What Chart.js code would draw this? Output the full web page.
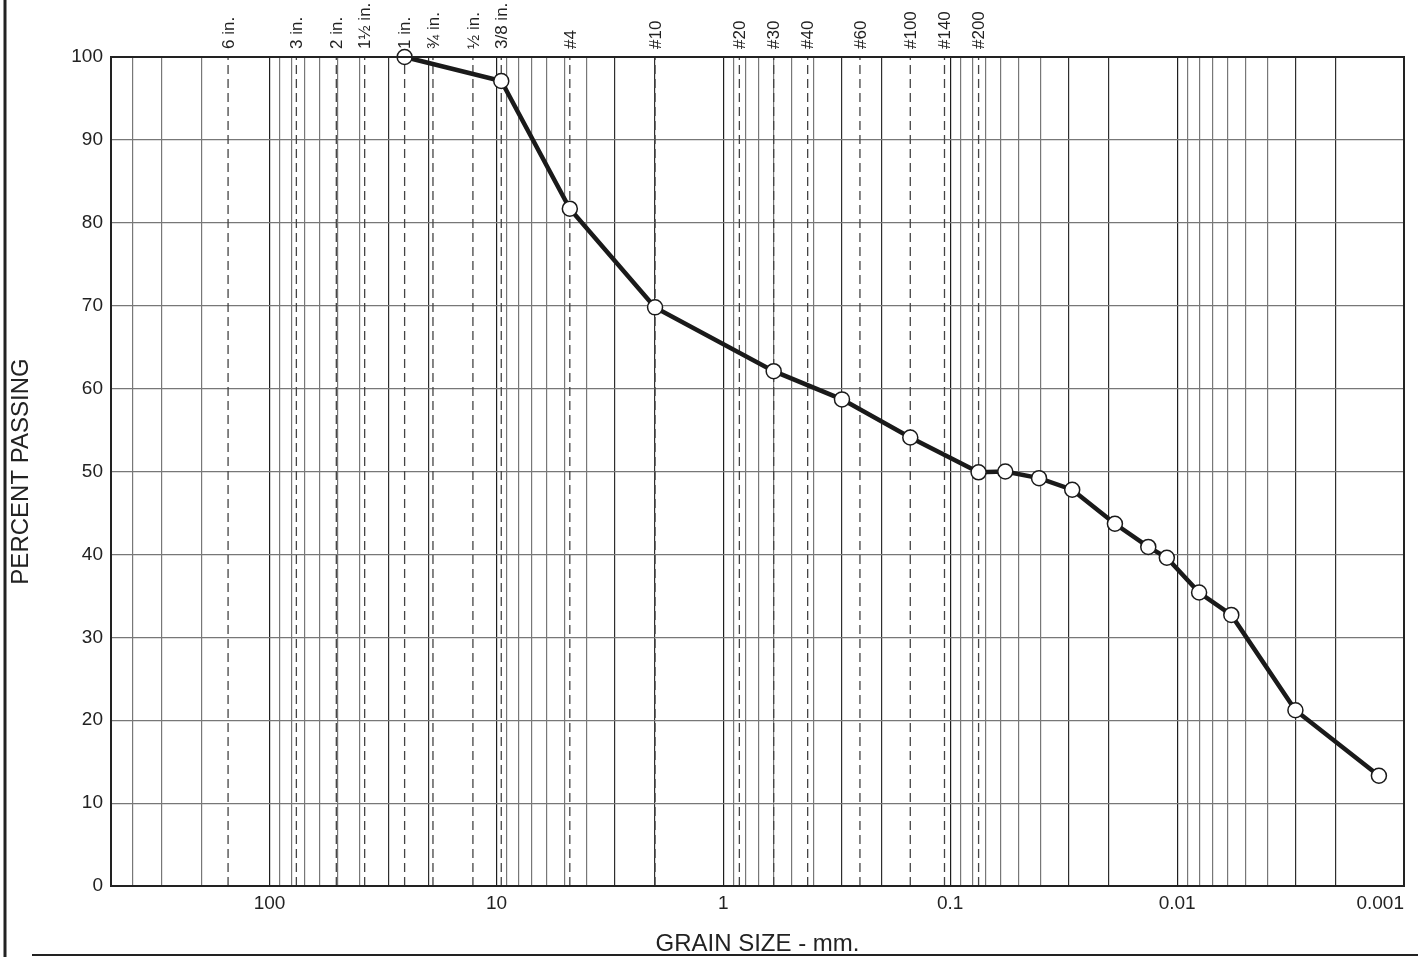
<!DOCTYPE html>
<html>
<head>
<meta charset="utf-8">
<script src="https://cdn.jsdelivr.net/npm/chart.js@4.4.1/dist/chart.umd.min.js"></script>
<style>
  html, body { margin: 0; padding: 0; background: #fff; }
  canvas { display: block; }
</style>
</head>
<body>
<canvas id="gradationChart" width="1418" height="957"></canvas>
<script>
// grain size (mm) and percent passing
var grainSize = [25.4, 9.525, 4.75, 2.0, 0.6, 0.3, 0.15, 0.075, 0.0572, 0.0406, 0.029, 0.0188, 0.0134, 0.0111, 0.008, 0.00577, 0.00301, 0.00129];
var percentPassing = [100, 97.1, 81.7, 69.8, 62.1, 58.7, 54.1, 49.9, 50.0, 49.2, 47.8, 43.7, 40.9, 39.6, 35.4, 32.7, 21.2, 13.3];

// standard sieve openings (mm) and their names along the top
var sieveSizes = [152.4, 76.2, 50.8, 38.1, 25.4, 19.05, 12.7, 9.525, 4.75, 2.0, 0.85, 0.6, 0.425, 0.25, 0.15, 0.106, 0.075];
var sieveLabels = ['6 in.', '3 in.', '2 in.', '1\u00BD in.', '1 in.', '\u00BE in.', '\u00BD in.', '3/8 in.', '#4', '#10', '#20', '#30', '#40', '#60', '#100', '#140', '#200'];

// labelled decades on the grain size axis
var decades = [0.001, 0.01, 0.1, 1, 10, 100];
var xMin = 0.001;
var xMax = 500;

var FONT = "'Liberation Sans', Arial, sans-serif";

// log grid ticks: 1..9 x each decade, up to 400
function buildLogTicks() {
    var out = [];
    decades.forEach(function (d) {
        for (var m = 1; m <= 9; m++) {
            var v = Number((m * d).toPrecision(3));
            if (v >= xMin && v < xMax) out.push({ value: v, mant: m, decade: d });
        }
    });
    return out;
}

function gridColorFor(tick) {
    if (!tick) return '#777';
    var v = tick.value;
    var e = Math.floor(Math.log10(v) + 1e-9);
    var m = Math.round(v / Math.pow(10, e));
    if (m === 1) return '#1e1e1e';
    if ((m === 2 || m === 3) && v < 100) return '#2e2e2e';
    return '#777';
}

var datasets = [{
    label: 'Percent passing',
    data: grainSize.map(function (g, i) { return { x: g, y: percentPassing[i] }; }),
    borderColor: '#1a1a1a',
    borderWidth: 4.5,
    pointRadius: 7.5,
    pointBackgroundColor: '#fff',
    pointBorderColor: '#1a1a1a',
    pointBorderWidth: 1.5,
    tension: 0,
    clip: false
}];

// dashed vertical line at each sieve size
sieveSizes.forEach(function (s, i) {
    datasets.push({
        label: sieveLabels[i],
        data: [{ x: s, y: 0 }, { x: s, y: 100 }],
        borderColor: '#444',
        borderWidth: 1.3,
        borderDash: [9, 5],
        pointRadius: 0,
        tension: 0
    });
});

var framePlugin = {
    id: 'frame',
    afterDraw: function (chart) {
        var ctx = chart.ctx;
        var a = chart.chartArea;
        var xs = chart.scales.x;
        ctx.save();
        // plot border
        ctx.strokeStyle = '#222';
        ctx.lineWidth = 2;
        ctx.strokeRect(a.left, a.top, a.right - a.left, a.bottom - a.top);
        // outer sheet lines
        ctx.lineWidth = 3;
        ctx.beginPath();
        ctx.moveTo(5, 0);
        ctx.lineTo(5, chart.height);
        ctx.stroke();
        ctx.lineWidth = 2;
        ctx.beginPath();
        ctx.moveTo(32, chart.height - 2);
        ctx.lineTo(chart.width, chart.height - 2);
        ctx.stroke();

        // sieve names above the plot
        ctx.fillStyle = '#222';
        ctx.font = '17px ' + FONT;
        ctx.textAlign = 'left';
        ctx.textBaseline = 'middle';
        sieveSizes.forEach(function (s, i) {
            var px = xs.getPixelForValue(s);
            ctx.save();
            ctx.translate(px + 1, a.top - 8);
            ctx.rotate(-Math.PI / 2);
            ctx.fillText(sieveLabels[i], 0, 0);
            ctx.restore();
        });

        // axis titles
        ctx.font = '24px ' + FONT;
        ctx.textAlign = 'center';
        ctx.textBaseline = 'middle';
        ctx.fillText('GRAIN SIZE - mm.', (a.left + a.right) / 2, 944);
        ctx.save();
        ctx.translate(21, (a.top + a.bottom) / 2);
        ctx.rotate(-Math.PI / 2);
        ctx.fillText('PERCENT PASSING', 0, 0);
        ctx.restore();
        ctx.restore();
    }
};

var ctx = document.getElementById('gradationChart').getContext('2d');
var chart = new Chart(ctx, {
    type: 'line',
    data: { datasets: datasets },
    options: {
        responsive: false,
        animation: false,
        devicePixelRatio: 1,
        layout: { padding: { top: 57, right: 14, left: 0, bottom: 0 } },
        plugins: {
            legend: { display: false },
            tooltip: { enabled: false }
        },
        scales: {
            x: {
                type: 'logarithmic',
                reverse: true,
                min: xMin,
                max: xMax,
                afterBuildTicks: function (scale) {
                    scale.ticks = buildLogTicks();
                },
                afterFit: function (scale) {
                    scale.height = 71;
                    scale.paddingLeft = 0;
                    scale.paddingRight = 0;
                },
                border: { display: false },
                grid: {
                    drawTicks: false,
                    color: function (c) { return gridColorFor(c.tick); },
                    lineWidth: 1.2
                },
                ticks: {
                    autoSkip: false,
                    maxRotation: 0,
                    minRotation: 0,
                    align: 'inner',
                    padding: 6,
                    color: '#222',
                    font: { size: 19, family: FONT },
                    callback: function (value, index, ticks) {
                        var t = ticks[index];
                        return t.mant === 1 ? String(t.decade) : '';
                    }
                }
            },
            y: {
                min: 0,
                max: 100,
                afterFit: function (scale) {
                    scale.width = 111;
                },
                border: { display: false },
                grid: {
                    drawTicks: false,
                    color: '#777',
                    lineWidth: 1.2
                },
                ticks: {
                    stepSize: 10,
                    padding: 8,
                    color: '#222',
                    font: { size: 19, family: FONT }
                }
            }
        }
    },
    plugins: [framePlugin]
});
</script>
</body>
</html>
